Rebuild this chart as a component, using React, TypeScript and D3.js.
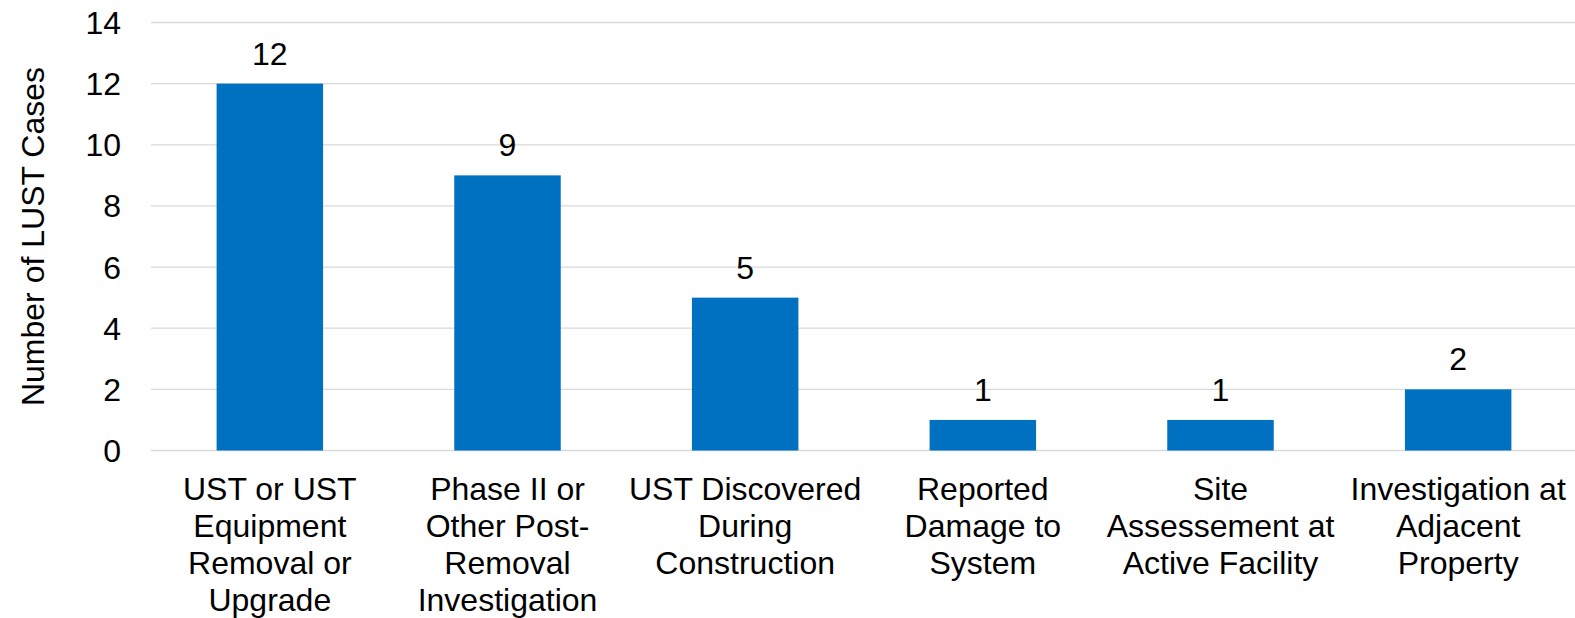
import { useEffect, useRef } from 'react';
import * as d3 from 'd3';

const categories: string[][] = [
  ['UST or UST', 'Equipment', 'Removal or', 'Upgrade'],
  ['Phase II or', 'Other Post-', 'Removal', 'Investigation'],
  ['UST Discovered', 'During', 'Construction'],
  ['Reported', 'Damage to', 'System'],
  ['Site', 'Assessement at', 'Active Facility'],
  ['Investigation at', 'Adjacent', 'Property'],
];
const values = [12, 9, 5, 1, 1, 2];
const yTicks = [0, 2, 4, 6, 8, 10, 12, 14];
const yTitle = 'Number of LUST Cases';

export default function App() {
  const svgRef = useRef<SVGSVGElement>(null);

  useEffect(() => {
    if (!svgRef.current) return;
    const svg = d3.select(svgRef.current);
    svg.selectAll('*').remove();

    const width = 1575;
    const height = 618;
    const margin = { top: 22.5, right: -2, bottom: 167.5, left: 151 };
    const font = 'Liberation Sans, Arial, sans-serif';
    const fs = 32;

    const ids = categories.map((_, i) => String(i));
    const x = d3
      .scaleBand()
      .domain(ids)
      .range([margin.left, width - margin.right])
      .paddingInner(0.552)
      .paddingOuter(0.276);

    const y = d3
      .scaleLinear()
      .domain([0, 14])
      .range([height - margin.bottom, margin.top]);

    const g = svg.append('g');

    // gridlines
    g.selectAll('line.grid')
      .data(yTicks)
      .join('line')
      .attr('class', 'grid')
      .attr('x1', margin.left)
      .attr('x2', width)
      .attr('y1', (d) => y(d))
      .attr('y2', (d) => y(d))
      .attr('stroke', '#d9d9d9')
      .attr('stroke-width', 1.3);

    // y tick labels
    g.selectAll('text.ytick')
      .data(yTicks)
      .join('text')
      .attr('class', 'ytick')
      .attr('x', 121)
      .attr('y', (d) => y(d) + 11.5)
      .attr('text-anchor', 'end')
      .attr('font-family', font)
      .attr('font-size', fs)
      .attr('fill', '#000')
      .text((d) => d);

    // bars
    g.selectAll('rect.bar')
      .data(values)
      .join('rect')
      .attr('class', 'bar')
      .attr('x', (_, i) => x(ids[i])!)
      .attr('width', x.bandwidth())
      .attr('y', (d) => y(d))
      .attr('height', (d) => y(0) - y(d))
      .attr('fill', '#0070C0');

    // data labels
    g.selectAll('text.val')
      .data(values)
      .join('text')
      .attr('class', 'val')
      .attr('x', (_, i) => x(ids[i])! + x.bandwidth() / 2)
      .attr('y', (d) => y(d) - 19)
      .attr('text-anchor', 'middle')
      .attr('font-family', font)
      .attr('font-size', fs)
      .attr('fill', '#000')
      .text((d) => d);

    // category labels
    categories.forEach((lines, i) => {
      const cx = x(ids[i])! + x.bandwidth() / 2;
      const t = g
        .append('text')
        .attr('text-anchor', 'middle')
        .attr('font-family', font)
        .attr('font-size', fs)
        .attr('fill', '#000');
      lines.forEach((line, j) => {
        t.append('tspan')
          .attr('x', cx)
          .attr('y', 499.5 + j * 37.3)
          .text(line);
      });
    });

    // y axis title
    svg
      .append('text')
      .attr('transform', `translate(44,${(y(0) + y(14)) / 2}) rotate(-90)`)
      .attr('text-anchor', 'middle')
      .attr('font-family', font)
      .attr('font-size', fs)
      .attr('fill', '#000')
      .text(yTitle);
  }, []);

  return (
    <svg
      ref={svgRef}
      width={1575}
      height={618}
      style={{ position: 'absolute', left: 0, top: 0, background: '#fff' }}
    />
  );
}
